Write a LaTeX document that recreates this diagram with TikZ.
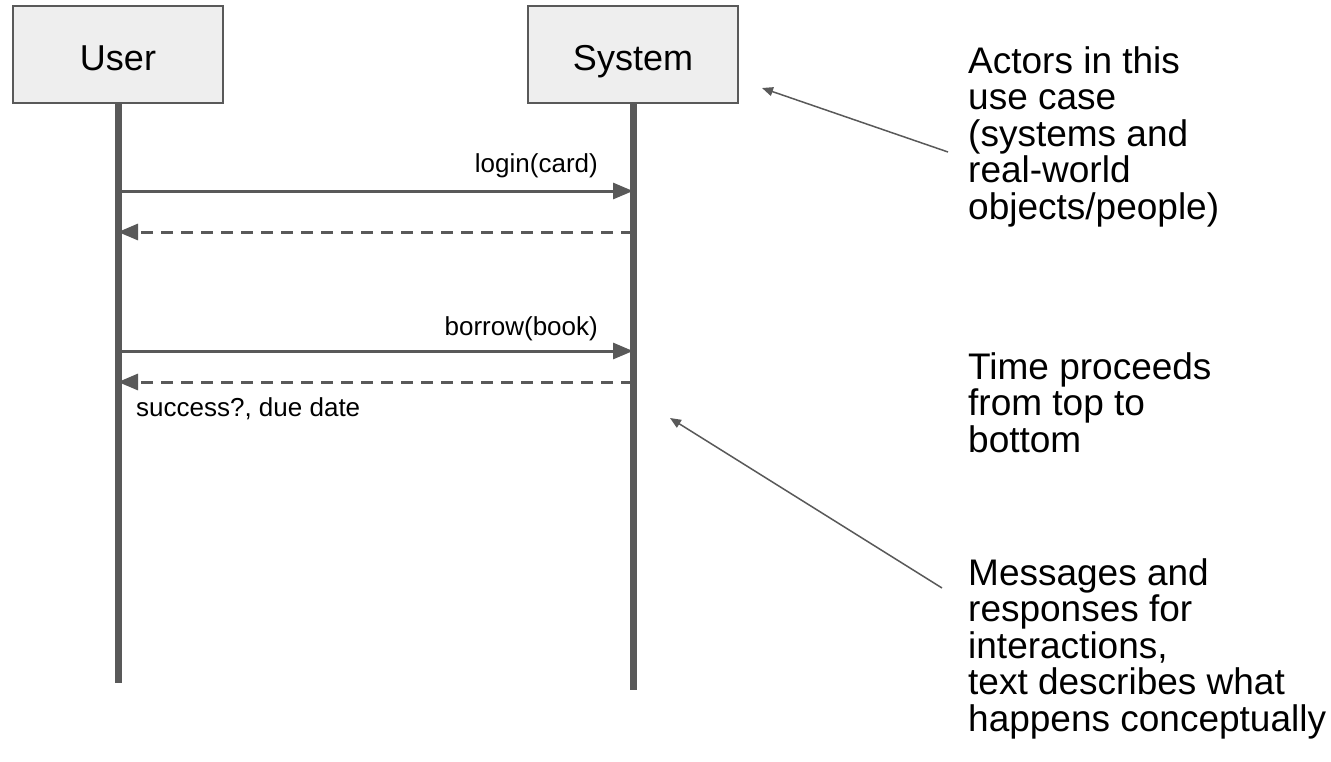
\documentclass[tikz,border=0pt]{standalone}
\usepackage{fontspec}
\setmainfont{Liberation Sans}
\usetikzlibrary{arrows.meta}
\definecolor{lg}{HTML}{595959}
\definecolor{boxfill}{HTML}{EEEEEE}
\begin{document}
\begin{tikzpicture}[x=1pt,y=-1pt,
  actor/.style={draw=lg, line width=1.5pt, fill=boxfill, minimum width=210pt, minimum height=97pt, inner sep=0pt, text height=31pt, text depth=0pt, font=\fontsize{36}{40}\selectfont},
  life/.style={draw=lg, line width=7pt},
  msg/.style={draw=lg, line width=3pt, -{Triangle[length=20pt,width=16pt]}},
  ret/.style={msg, dash pattern=on 12pt off 8pt},
  lbl/.style={font=\fontsize{26}{28}\selectfont, inner sep=0pt},
  note/.style={align=left, inner sep=0pt, anchor=north west, font=\fontsize{37}{36.5}\selectfont},
  pointer/.style={draw=lg, line width=1.5pt, -{Triangle[length=11pt,width=9pt]}}
]
\useasboundingbox (0,0) rectangle (1331,761);
\node[actor] (user) at (118,54.5) {User};
\node[actor] (sys) at (633,54.5) {System};
\coordinate (uend) at (118,683);
\coordinate (send) at (633,690);
\draw[life] (user.south) -- (uend);
\draw[life] (sys.south) -- (send);
% message points
\coordinate (u1) at (118,191); \coordinate (s1) at (633,191);
\coordinate (u2) at (118,232); \coordinate (s2) at (633,232);
\coordinate (u3) at (118,351); \coordinate (s3) at (633,351);
\coordinate (u4) at (118,382); \coordinate (s4) at (633,382);
\draw[msg] (u1) -- (s1);
\draw[ret] (s2) -- (u2);
\draw[msg] (u3) -- (s3);
\draw[ret] (s4) -- (u4);
\node[lbl, anchor=base east] (l1) at (598,172) {login(card)};
\node[lbl, anchor=base east] (l2) at (598,335) {borrow(book)};
\node[lbl, anchor=base west] (l3) at (136,416) {success?, due date};
% notes
\node[note] (n1) at (968,46) {Actors in this\\use case\\(systems and\\real-world\\objects/people)};
\node[note] (n2) at (968,352) {Time proceeds\\from top to\\bottom};
\node[note] (n3) at (968,558) {Messages and\\responses for\\interactions,\\text describes what\\happens conceptually};
\coordinate (p1s) at (948,152); \coordinate (p1e) at (762,88);
\coordinate (p2s) at (942,588); \coordinate (p2e) at (670,418);
\draw[pointer] (p1s) -- (p1e);
\draw[pointer] (p2s) -- (p2e);
\end{tikzpicture}
\end{document}
